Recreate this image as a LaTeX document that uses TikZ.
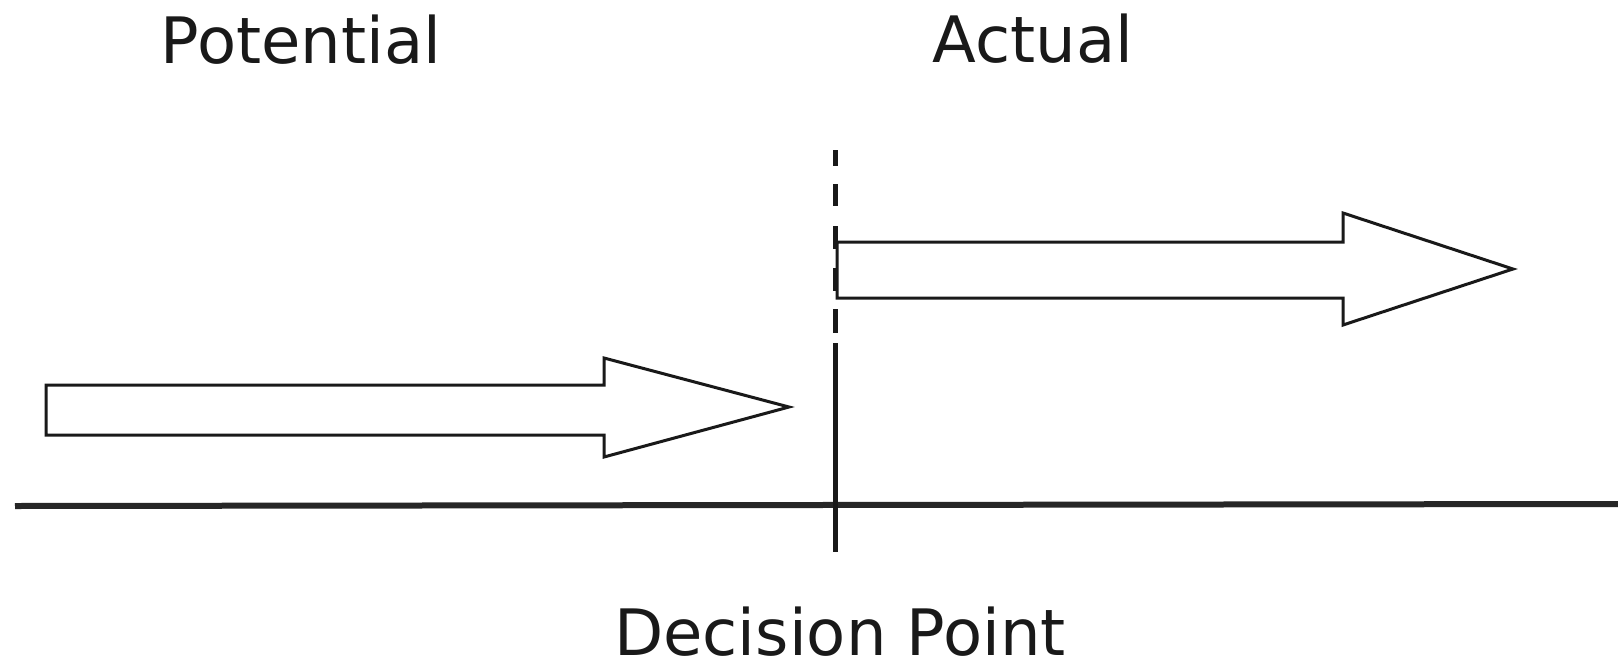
\documentclass[tikz,border=0pt]{standalone}
\usepackage{fontspec}
\setmainfont{DejaVu Sans}
\begin{document}
\begin{tikzpicture}[x=1pt,y=-1pt,
  label/.style={anchor=base,inner sep=0pt,font=\fontsize{64}{72}\selectfont,text=black!90},
  bigarrow/.style={draw=black!90,line width=3pt,fill=white,line join=miter},
  axis/.style={draw=black!85,line width=6pt},
  decision/.style={draw=black!90,line width=5pt}]
\useasboundingbox[fill=white] (0,0) rectangle (1618,662);
% texts
\node[label] (pot) at (301,63) {Potential};
\node[label] (act) at (1033,62) {Actual};
\node[label] (dec) at (840,655) {Decision Point};
% timeline
\coordinate (axL) at (15,506);
\coordinate (axR) at (1618,504);
\draw[axis] (axL) -- (axR);
% decision line
\coordinate (dTop) at (835,150);
\coordinate (dMid) at (835,334);
\coordinate (dSol) at (835,343);
\coordinate (dBot) at (835,552);
\draw[decision,dash pattern=on 16pt off 18pt on 22pt off 20pt on 23pt off 19pt on 23pt off 18pt on 24pt off 30pt] (dTop) -- (dMid);
\draw[decision] (dSol) -- (dBot);
% left arrow
\draw[bigarrow] (46,385) -- (604,385) -- (604,358) -- (789,407) -- (604,457) -- (604,435) -- (46,435) -- cycle;
% right arrow
\draw[bigarrow] (837,242) -- (1343,242) -- (1343,213) -- (1513,269) -- (1343,325) -- (1343,298) -- (837,298) -- cycle;
\end{tikzpicture}
\end{document}
